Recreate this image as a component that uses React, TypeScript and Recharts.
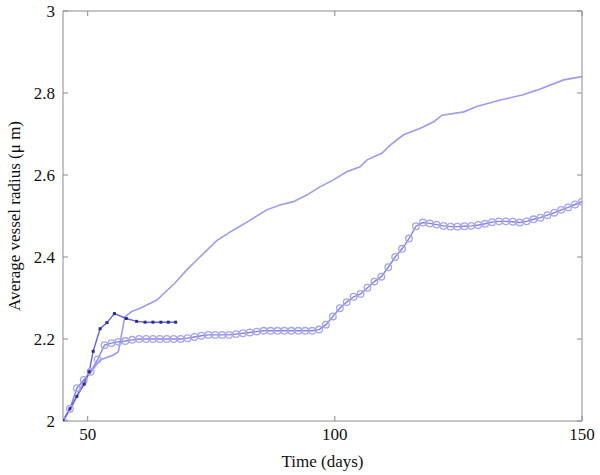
import { LineChart, Line, XAxis, YAxis } from 'recharts';

// time (days) / mean radius (µm)
const plainT = [45, 47, 48.5, 50, 52.5, 55.2, 56.2, 57.5, 58.9, 60.6, 64, 67.6, 70, 72.7, 76.1, 79.5, 82.9, 86.2, 88.9, 91.6, 94.3, 97, 99.7, 102.4, 105.1, 106.5, 109.5, 111.2, 113.9, 117.3, 120, 121.7, 126.1, 128.7, 133.5, 137.9, 140.9, 146.3, 150];
const plainR = [2.0, 2.04, 2.08, 2.11, 2.149, 2.161, 2.169, 2.254, 2.267, 2.275, 2.295, 2.336, 2.368, 2.4, 2.44, 2.466, 2.49, 2.515, 2.527, 2.535, 2.551, 2.571, 2.588, 2.608, 2.62, 2.637, 2.653, 2.673, 2.698, 2.714, 2.73, 2.746, 2.754, 2.767, 2.783, 2.795, 2.807, 2.832, 2.84];

const circleT = [45, 46.4, 47.8, 49.2, 50.6, 52, 53.4, 54.8, 56.2, 57.6, 59, 60.4, 61.8, 63.2, 64.6, 66, 67.4, 68.8, 70.2, 71.6, 73, 74.4, 75.8, 77.2, 78.6, 80, 81.4, 82.8, 84.2, 85.6, 87, 88.4, 89.8, 91.2, 92.6, 94, 95.4, 96.8, 98.2, 99.6, 101, 102.4, 103.8, 105.2, 106.6, 108, 109.4, 110.8, 112.2, 113.6, 115, 116.4, 117.8, 119.2, 120.6, 122, 123.4, 124.8, 126.2, 127.6, 129, 130.4, 131.8, 133.2, 134.6, 136, 137.4, 138.8, 140.2, 141.6, 143, 144.4, 145.8, 147.2, 148.6, 150];
const circleR = [2.0, 2.03, 2.08, 2.1, 2.12, 2.15, 2.185, 2.19, 2.193, 2.195, 2.198, 2.2, 2.2, 2.2, 2.2, 2.2, 2.2, 2.2, 2.202, 2.205, 2.208, 2.21, 2.21, 2.21, 2.21, 2.212, 2.214, 2.216, 2.218, 2.22, 2.22, 2.22, 2.22, 2.22, 2.22, 2.22, 2.22, 2.223, 2.235, 2.255, 2.275, 2.29, 2.303, 2.31, 2.325, 2.34, 2.352, 2.375, 2.4, 2.42, 2.445, 2.475, 2.484, 2.482, 2.479, 2.476, 2.474, 2.474, 2.475, 2.476, 2.478, 2.481, 2.485, 2.487, 2.487, 2.486, 2.484, 2.487, 2.492, 2.496, 2.502, 2.508, 2.515, 2.521, 2.528, 2.535];

const squareT = [45, 46.4, 47.8, 49.3, 50.3, 51.1, 52.5, 53.9, 55.4, 57.8, 59.9, 61.6, 63.2, 64.8, 66.3, 67.8];
const squareR = [2.0, 2.03, 2.06, 2.09, 2.12, 2.17, 2.225, 2.24, 2.262, 2.25, 2.243, 2.241, 2.241, 2.241, 2.241, 2.241];

const xTicks = [50, 100, 150];
const yTicks = [2, 2.2, 2.4, 2.6, 2.8, 3];

const toRows = (t: number[], r: number[]) => t.map((x, i) => ({ t: x, r: r[i] }));

const plainData = toRows(plainT, plainR);
const circleData = toRows(circleT, circleR);
const squareData = toRows(squareT, squareR);

const serif = '"Liberation Serif", "Times New Roman", serif';
const axisGrey = '#8c8c8c';
const font = { fontFamily: serif, fontSize: 17, fill: '#111' };

const SquareDot = (props: any) => {
  const { cx, cy, key } = props;
  if (cx == null || cy == null) return <g key={key} />;
  return <rect key={key} x={cx - 1.5} y={cy - 1.5} width={3} height={3} fill="#2c2c8c" />;
};

export default function App() {
  return (
    <div style={{ position: 'absolute', left: 0, top: 0, background: '#fff', fontFamily: serif }}>
      <LineChart width={600} height={475} margin={{ top: 10, right: 17, left: 0, bottom: 20 }}>
        <XAxis
          xAxisId="b"
          dataKey="t"
          type="number"
          domain={[45, 150]}
          ticks={xTicks}
          allowDataOverflow
          height={34}
          stroke={axisGrey}
          tickSize={-5}
          tickMargin={12}
          tick={font}
          label={{ value: 'Time (days)', position: 'insideBottom', offset: -12, style: { ...font, textAnchor: 'middle' } }}
        />
        <XAxis
          xAxisId="t"
          orientation="top"
          dataKey="t"
          type="number"
          domain={[45, 150]}
          ticks={xTicks}
          allowDataOverflow
          height={1}
          stroke={axisGrey}
          tickSize={-5}
          tickFormatter={() => ''}
        />
        <YAxis
          yAxisId="l"
          type="number"
          domain={[2, 3]}
          ticks={yTicks}
          allowDataOverflow
          width={63}
          stroke={axisGrey}
          tickSize={-5}
          tickMargin={13}
          tick={font}
          label={{ value: 'Average vessel radius (\u03bc m)', angle: -90, position: 'insideLeft', offset: 14, style: { ...font, textAnchor: 'middle' } }}
        />
        <YAxis
          yAxisId="r"
          orientation="right"
          type="number"
          domain={[2, 3]}
          ticks={yTicks}
          allowDataOverflow
          width={1}
          stroke={axisGrey}
          tickSize={-5}
          tickFormatter={() => ''}
        />
        {/* hidden copy so the top/right box axes get drawn */}
        <Line
          xAxisId="t"
          yAxisId="r"
          data={plainData}
          dataKey="r"
          stroke="none"
          dot={false}
          activeDot={false}
          isAnimationActive={false}
        />
        <Line
          xAxisId="b"
          yAxisId="l"
          data={plainData}
          dataKey="r"
          type="linear"
          stroke="#9c9cef"
          strokeWidth={1.6}
          dot={false}
          isAnimationActive={false}
        />
        <Line
          xAxisId="b"
          yAxisId="l"
          data={circleData}
          dataKey="r"
          type="linear"
          stroke="#8282e6"
          strokeWidth={1.4}
          dot={{ r: 3.3, stroke: '#a4a4f0', strokeWidth: 1.3, fill: 'none' }}
          isAnimationActive={false}
        />
        <Line
          xAxisId="b"
          yAxisId="l"
          data={squareData}
          dataKey="r"
          type="linear"
          stroke="#6464da"
          strokeWidth={1.4}
          dot={<SquareDot />}
          isAnimationActive={false}
        />
      </LineChart>
    </div>
  );
}
